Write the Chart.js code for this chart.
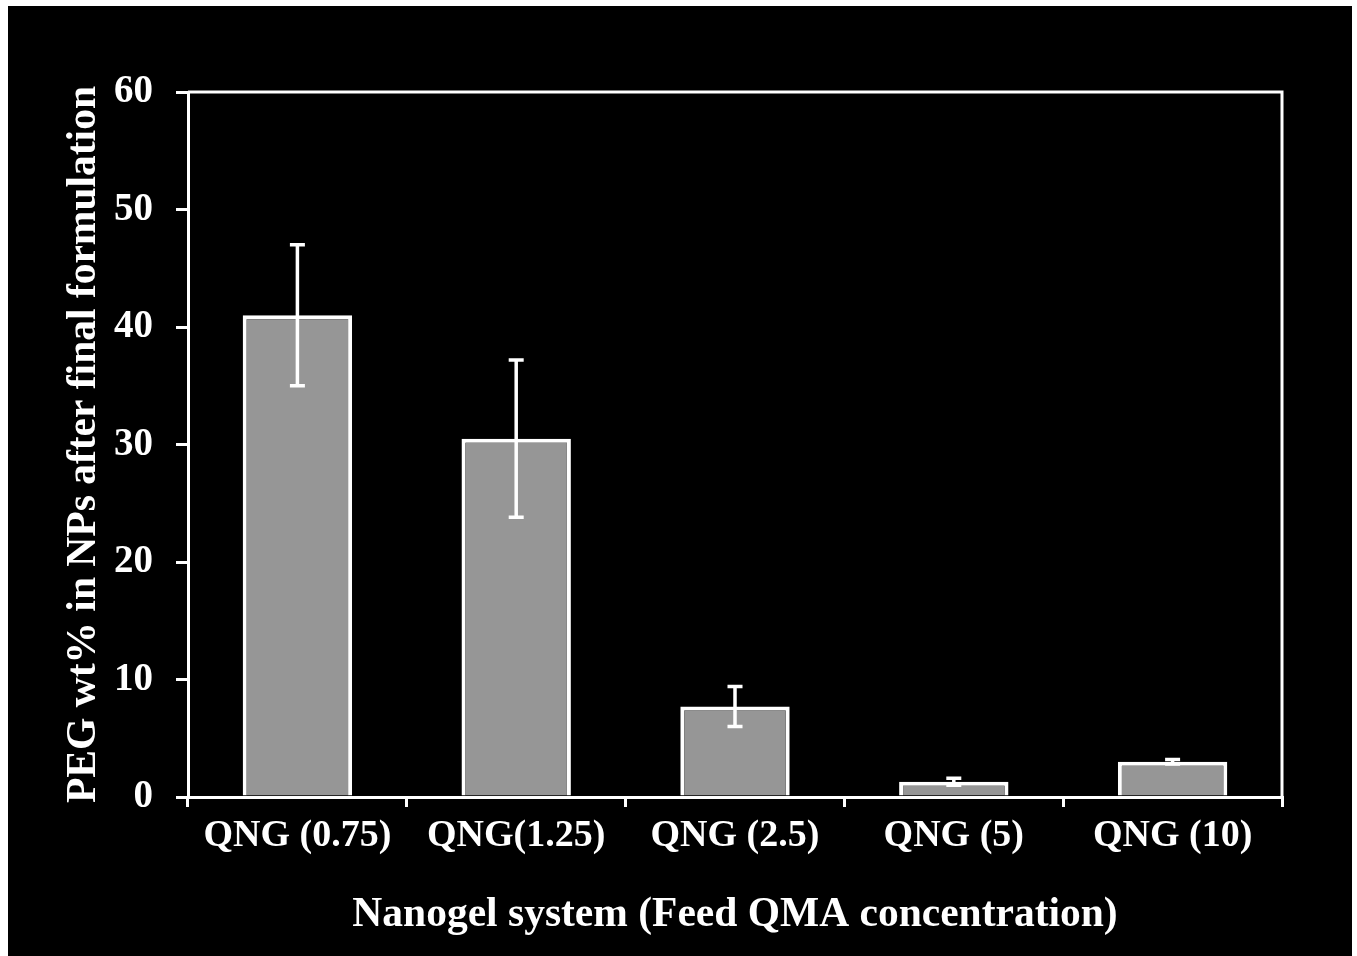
<!DOCTYPE html>
<html>
<head>
<meta charset="utf-8">
<script src="https://cdn.jsdelivr.net/npm/chart.js@4"></script>
<style>
  html, body { margin: 0; padding: 0; background: #fff; }
  #wrap { position: absolute; left: 0; top: 0; width: 1357px; height: 956px; }
</style>
</head>
<body>
<div id="wrap"><canvas id="chart" width="1357" height="956"></canvas></div>
<script>
const categories = ['QNG (0.75)', 'QNG(1.25)', 'QNG (2.5)', 'QNG (5)', 'QNG (10)'];
const pegValues = [41, 30.5, 7.7, 1.3, 3.0];
const pegErrors = [6.0, 6.7, 1.7, 0.3, 0.2];
const yTicks = [0, 10, 20, 30, 40, 50, 60];

const serif = '"Liberation Serif", "Times New Roman", serif';

// black panel with a thin white margin, like the pasted figure
const backdrop = {
    id: 'backdrop',
    beforeDraw(chart) {
        const ctx = chart.ctx;
        ctx.save();
        ctx.fillStyle = '#ffffff';
        ctx.fillRect(0, 0, chart.width, chart.height);
        ctx.fillStyle = '#000000';
        ctx.fillRect(8, 6, 1344, 950);
        ctx.restore();
    }
};

// top and right sides of the plot box
const frame = {
    id: 'frame',
    afterDraw(chart) {
        const { ctx, chartArea: a } = chart;
        ctx.save();
        ctx.strokeStyle = '#ffffff';
        ctx.lineWidth = 3;
        ctx.beginPath();
        ctx.moveTo(a.left, a.top);
        ctx.lineTo(a.right, a.top);
        ctx.lineTo(a.right, a.bottom);
        ctx.stroke();
        ctx.restore();
    }
};

const errorBars = {
    id: 'errorBars',
    afterDatasetsDraw(chart) {
        const ctx = chart.ctx;
        const y = chart.scales.y;
        const meta = chart.getDatasetMeta(0);
        ctx.save();
        ctx.strokeStyle = '#ffffff';
        ctx.lineWidth = 3.5;
        meta.data.forEach((bar, i) => {
            const hi = y.getPixelForValue(pegValues[i] + pegErrors[i]);
            const lo = y.getPixelForValue(pegValues[i] - pegErrors[i]);
            const x = bar.x;
            ctx.beginPath();
            ctx.moveTo(x, hi);
            ctx.lineTo(x, lo);
            ctx.moveTo(x - 7.5, hi);
            ctx.lineTo(x + 7.5, hi);
            ctx.moveTo(x - 7.5, lo);
            ctx.lineTo(x + 7.5, lo);
            ctx.stroke();
        });
        ctx.restore();
    }
};

new Chart(document.getElementById('chart'), {
    type: 'bar',
    data: {
        labels: categories,
        datasets: [{
            data: pegValues,
            backgroundColor: '#969696',
            borderColor: '#ffffff',
            borderWidth: 4,
            barPercentage: 0.5,
            categoryPercentage: 1.0
        }]
    },
    options: {
        responsive: false,
        animation: false,
        layout: { padding: { left: 0, top: 92, right: 75, bottom: 0 } },
        plugins: {
            legend: { display: false },
            tooltip: { enabled: false }
        },
        scales: {
            x: {
                offset: true,
                grid: {
                    offset: true,
                    drawOnChartArea: false,
                    color: '#ffffff',
                    lineWidth: 3,
                    tickLength: 10
                },
                border: { color: '#ffffff', width: 3 },
                ticks: {
                    color: '#ffffff',
                    padding: 6,
                    maxRotation: 0,
                    font: { family: serif, size: 38, weight: 'bold' }
                },
                title: {
                    display: true,
                    text: 'Nanogel system (Feed QMA concentration)',
                    color: '#ffffff',
                    padding: { top: 0, bottom: 16 },
                    font: { family: serif, size: 41.5, weight: 'bold' }
                },
                afterFit(scale) { scale.height = 159; }
            },
            y: {
                min: 0,
                max: 60,
                afterBuildTicks(scale) { scale.ticks = yTicks.map(v => ({ value: v })); },
                grid: {
                    drawOnChartArea: false,
                    color: '#ffffff',
                    lineWidth: 3,
                    tickLength: 12
                },
                border: { color: '#ffffff', width: 3 },
                ticks: {
                    color: '#ffffff',
                    padding: 23,
                    font: { family: serif, size: 39, weight: 'bold' }
                },
                title: {
                    display: true,
                    text: 'PEG wt% in NPs after final formulation',
                    color: '#ffffff',
                    padding: { top: 59, bottom: 0 },
                    font: { family: serif, size: 41.5, weight: 'bold' }
                },
                afterFit(scale) { scale.width = 188; }
            }
        }
    },
    plugins: [backdrop, frame, errorBars]
});
</script>
</body>
</html>
